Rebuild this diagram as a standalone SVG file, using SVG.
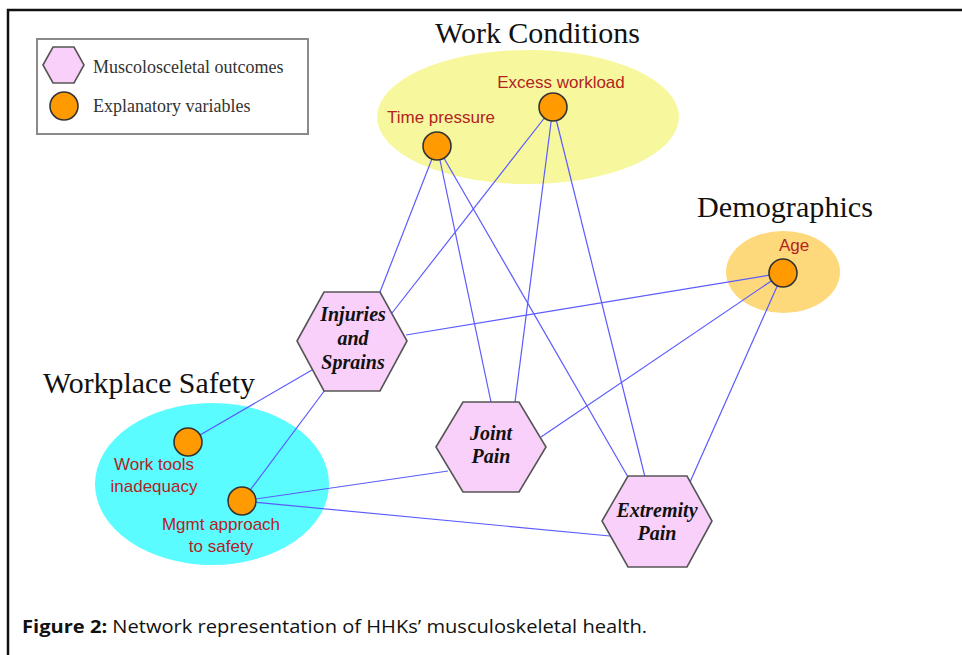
<svg xmlns="http://www.w3.org/2000/svg" width="962" height="655" viewBox="0 0 962 655">
  <style>
    .frame { fill: none; stroke: #111; stroke-width: 2.5; }
    .legend-box { fill: #fff; stroke: #8a8a8a; stroke-width: 2; }
    .legend-text { font-family: "Liberation Serif", "DejaVu Serif", serif; font-size: 18px; fill: #333; }
    .group-title { font-family: "Liberation Serif", "DejaVu Serif", serif; font-size: 29px; fill: #111; }
    .edge { stroke: #5b5bff; stroke-width: 1.2; fill: none; }
    .var { fill: #ff9a00; stroke: #333; stroke-width: 1.6; }
    .var-label { font-family: "Liberation Sans", Arial, sans-serif; font-size: 17px; fill: #b3231f; text-anchor: middle; }
    .outcome { fill: #f8d0fa; stroke: #555; stroke-width: 1.6; }
    .outcome-label { font-family: "Liberation Serif", "DejaVu Serif", serif; font-size: 20px; font-weight: bold; font-style: italic; fill: #111; text-anchor: middle; }
    .caption { font-family: "Open Sans", "Liberation Sans", sans-serif; font-size: 18px; fill: #111; }
  </style>

  <rect width="962" height="655" fill="#fff"/>
  <!-- page frame: top and left rules -->
  <path class="frame" d="M8,655 V10 H962"/>

  <!-- group backdrops -->
  <g id="work-conditions">
    <ellipse cx="528" cy="117" rx="151" ry="67" fill="#f7f89e"/>
    <text class="group-title" x="435" y="43" textLength="205" lengthAdjust="spacingAndGlyphs">Work Conditions</text>
  </g>
  <g id="demographics">
    <ellipse cx="783" cy="272" rx="57" ry="41" fill="#fdd97b"/>
    <text class="group-title" x="697" y="217" textLength="176" lengthAdjust="spacingAndGlyphs">Demographics</text>
  </g>
  <g id="workplace-safety">
    <ellipse cx="212" cy="484" rx="117" ry="81" fill="#5afcff"/>
    <text class="group-title" x="43" y="393" textLength="212" lengthAdjust="spacingAndGlyphs">Workplace Safety</text>
  </g>

  <!-- legend -->
  <g id="legend">
    <rect class="legend-box" x="37" y="39" width="271" height="95"/>
    <polygon class="outcome" points="43,65 53,47 74,47 84,65 74,83 53,83"/>
    <circle class="var" cx="64" cy="106" r="14"/>
    <text class="legend-text" x="93" y="73">Muscolosceletal outcomes</text>
    <text class="legend-text" x="93" y="112">Explanatory variables</text>
  </g>

  <!-- connectors -->
  <g id="connectors">
    <line class="edge" x1="437" y1="146" x2="380" y2="292"/>
    <line class="edge" x1="553" y1="107" x2="392" y2="313"/>
    <line class="edge" x1="783" y1="273" x2="406" y2="335"/>
    <line class="edge" x1="437" y1="146" x2="491" y2="402"/>
    <line class="edge" x1="553" y1="107" x2="515" y2="402"/>
    <line class="edge" x1="437" y1="146" x2="628" y2="477"/>
    <line class="edge" x1="553" y1="107" x2="645" y2="477"/>
    <line class="edge" x1="783" y1="273" x2="541" y2="437"/>
    <line class="edge" x1="783" y1="273" x2="690" y2="482"/>
    <line class="edge" x1="188" y1="442" x2="312" y2="370"/>
    <line class="edge" x1="242" y1="501" x2="325" y2="390"/>
    <line class="edge" x1="242" y1="501" x2="448" y2="471"/>
    <line class="edge" x1="242" y1="501" x2="610" y2="536"/>
  </g>

  <!-- explanatory variables -->
  <g id="time-pressure">
    <circle class="var" cx="437" cy="146" r="14"/>
    <text class="var-label" x="441" y="123">Time pressure</text>
  </g>
  <g id="excess-workload">
    <circle class="var" cx="553" cy="107" r="14"/>
    <text class="var-label" x="561" y="88">Excess workload</text>
  </g>
  <g id="age">
    <circle class="var" cx="783" cy="273" r="14"/>
    <text class="var-label" x="794" y="251">Age</text>
  </g>
  <g id="work-tools">
    <circle class="var" cx="188" cy="442" r="14"/>
    <text class="var-label" x="154" y="470">Work tools</text>
    <text class="var-label" x="154" y="492">inadequacy</text>
  </g>
  <g id="mgmt-approach">
    <circle class="var" cx="242" cy="501" r="14"/>
    <text class="var-label" x="221" y="530">Mgmt approach</text>
    <text class="var-label" x="221" y="552">to safety</text>
  </g>

  <!-- musculoskeletal outcomes -->
  <g id="injuries-sprains">
    <polygon class="outcome" points="297,341 324,292 380,292 407,341 380,391 324,391"/>
    <text class="outcome-label" x="353" y="321">Injuries</text>
    <text class="outcome-label" x="353" y="345">and</text>
    <text class="outcome-label" x="353" y="369">Sprains</text>
  </g>
  <g id="joint-pain">
    <polygon class="outcome" points="436,447 463,402 519,402 546,447 519,492 463,492"/>
    <text class="outcome-label" x="491" y="440">Joint</text>
    <text class="outcome-label" x="491" y="463">Pain</text>
  </g>
  <g id="extremity-pain">
    <polygon class="outcome" points="602,521 628,476 687,476 712,521 687,567 628,567"/>
    <text class="outcome-label" x="657" y="517">Extremity</text>
    <text class="outcome-label" x="657" y="540">Pain</text>
  </g>

  <!-- caption -->
  <text class="caption" x="22" y="633" textLength="625" lengthAdjust="spacingAndGlyphs"><tspan font-weight="bold">Figure 2:</tspan> Network representation of HHKs’ musculoskeletal health.</text>
</svg>
